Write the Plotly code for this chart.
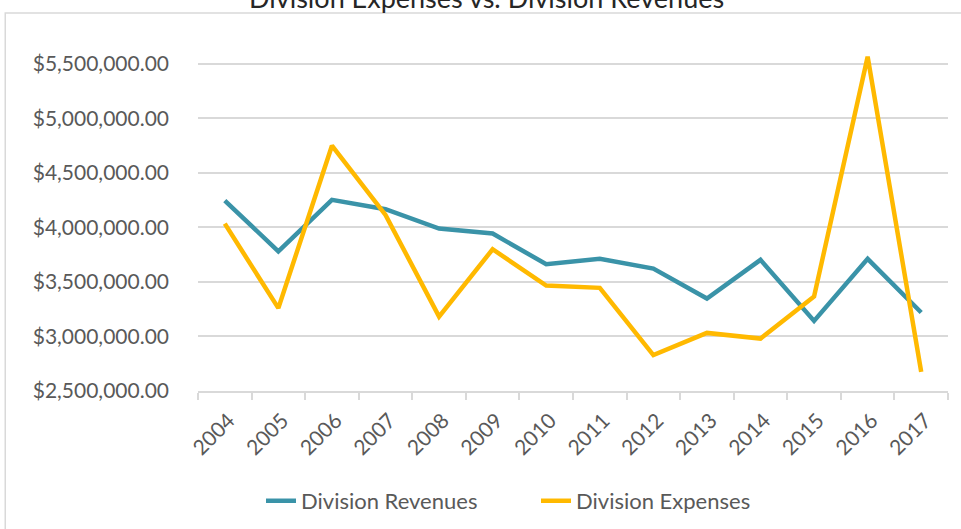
import plotly.graph_objects as go

years = ["2004", "2005", "2006", "2007", "2008", "2009", "2010",
         "2011", "2012", "2013", "2014", "2015", "2016", "2017"]
revenues = [4246000, 3781000, 4253000, 4167000, 3990000, 3944000, 3663000,
            3712000, 3623000, 3348000, 3703000, 3143000, 3712000, 3220000]
expenses = [4035000, 3260000, 4750000, 4115000, 3183000, 3800000, 3467000,
            3446000, 2829000, 3033000, 2981000, 3366000, 5566000, 2676000]
y_ticks = [2500000, 3000000, 3500000, 4000000, 4500000, 5000000, 5500000]

TXT = "#595959"
GRID = "#d9d9d9"
FONT = "Lato, 'Open Sans', sans-serif"

fig = go.Figure()
fig.add_trace(go.Scatter(x=years, y=revenues, mode="lines", name="Division Revenues",
                         line=dict(color="#3A93A8", width=4.5)))
fig.add_trace(go.Scatter(x=years, y=expenses, mode="lines", name="Division Expenses",
                         line=dict(color="#FFB900", width=4.5)))

fig.update_layout(
    width=961, height=529,
    margin=dict(l=198, r=13, t=53, b=138, autoexpand=False),
    paper_bgcolor="white", plot_bgcolor="white",
    font=dict(family=FONT, color=TXT, size=21),
    showlegend=True,
    legend=dict(orientation="h", xref="container", yref="container",
                x=0.2716, xanchor="left", y=0.053, yanchor="middle",
                entrywidth=230, entrywidthmode="pixels",
                font=dict(size=22, color=TXT), tracegroupgap=0),
    xaxis=dict(type="category", range=[-0.5, len(years) - 0.5], automargin=False,
               showgrid=False, showline=True, linecolor=GRID, linewidth=2,
               ticks="outside", tickson="boundaries", ticklen=7, tickcolor=GRID, tickwidth=2,
               tickangle=-45, tickfont=dict(size=21, color=TXT), zeroline=False,
               ticklabelstandoff=7, ticklabelshift=4),
    yaxis=dict(range=[2500000, 5600000], tickvals=y_ticks, automargin=False,
               ticktext=["${:,.2f}".format(v) for v in y_ticks],
               showgrid=True, gridcolor=GRID, gridwidth=2, zeroline=False,
               showline=False, ticks="", tickfont=dict(size=21, color=TXT), ticklabelstandoff=28),
)

fig.add_shape(type="rect", xref="paper", yref="paper", x0=-0.257, x1=1.02, y0=-0.42, y1=1.118,
              line=dict(color=GRID, width=1.5), fillcolor="rgba(0,0,0,0)", layer="below")

fig.add_annotation(text="Division Expenses vs. Division Revenues", xref="paper", yref="paper",
                   x=0.385, y=1.108, xanchor="center", yanchor="bottom", showarrow=False,
                   font=dict(size=27, color="#262626", family=FONT))

fig.write_html(
    "out.html",
    config={"displayModeBar": False, "responsive": False},
    post_script="document.body.style.margin='0';"
                "document.documentElement.style.overflow='hidden';"
                "document.body.style.overflow='hidden';",
)
